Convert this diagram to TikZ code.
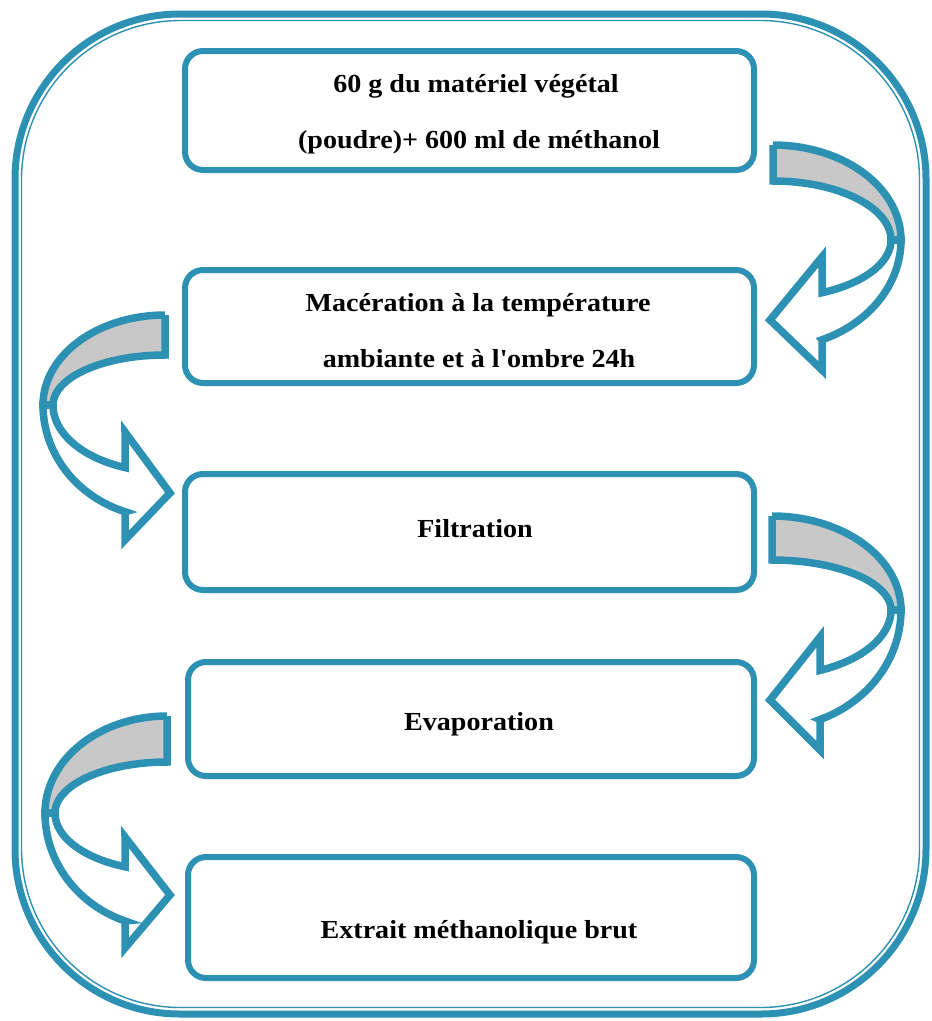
\documentclass[tikz,border=0pt]{standalone}
\usepackage{fontspec}
\setmainfont{Liberation Serif}[FakeStretch=1.08]
\definecolor{teal1}{HTML}{2C91B2}
\definecolor{band}{HTML}{C8C8C8}
\begin{document}
\begin{tikzpicture}[x=1pt,y=-1pt,
  boxouter/.style={draw=teal1,line width=6pt,rounded corners=18pt,minimum width=#1,inner sep=0pt},
  innerline/.style={draw=teal1,line width=1.4pt,rounded corners=14pt},
  lbl/.style={font=\fontsize{26}{30}\selectfont\bfseries,anchor=base,inner sep=0pt},
  ribbon/.style={draw=teal1,line width=7.5pt,line join=miter,miter limit=10}]
\useasboundingbox (0,0) rectangle (932,1021);
% frame
\draw[teal1,line width=7pt,rounded corners=165pt] (15,14) rectangle (926,1014);
\draw[teal1,line width=1.4pt,rounded corners=159pt] (21.5,20.5) rectangle (919.5,1007.5);
% boxes
\node[boxouter=569pt,minimum height=119pt] (b1) at (469.5,110.5) {};
\node[boxouter=569pt,minimum height=113pt] (b2) at (469.5,326.5) {};
\node[boxouter=569pt,minimum height=116pt] (b3) at (469.5,532) {};
\node[boxouter=566pt,minimum height=114pt] (b4) at (471,719) {};
\node[boxouter=566pt,minimum height=121pt] (b5) at (471,917.5) {};
\foreach \b in {b1,b2,b3,b4,b5}{
  \draw[innerline] ([shift={(5,5)}]\b.north west) rectangle ([shift={(-5,-5)}]\b.south east);
}
% texts
\node[lbl] (t1a) at (476,92) {60 g du matériel végétal};
\node[lbl] (t1b) at (479,148) {(poudre)+ 600 ml de méthanol};
\node[lbl] (t2a) at (478,311) {Macération à la température};
\node[lbl] (t2b) at (479,367) {ambiante et à l\textquotesingle ombre 24h};
\node[lbl] (t3) at (475,537) {Filtration};
\node[lbl] (t4) at (479,730) {Evaporation};
\node[lbl] (t5) at (479,938) {Extrait méthanolique brut};
% right arrow 1 (b1 -> b2)
\draw[ribbon,fill=band] (773,145) -- (773,181)
  -- plot[domain=90:0,samples=40] ({773+118*cos(\x)},{240-59*sin(\x)})
  -- plot[domain=0:90,samples=40] ({773+128*cos(\x)},{240-95*sin(\x)}) -- cycle;
\draw[ribbon,fill=white] (891,240)
  -- plot[domain=0:65.46,samples=40] ({773+118*cos(\x)},{240+58*sin(\x)})
  -- (822,257) -- (770,320) -- (822,370) -- (822,339.8)
  -- plot[domain=67.5:0,samples=40] ({773+128*cos(\x)},{240+108*sin(\x)}) -- cycle;
% left arrow 1 (b2 -> b3)
\draw[ribbon,fill=band] (165,315) -- (165,355)
  -- plot[domain=90:0,samples=40] ({165-112*cos(\x)},{405-50*sin(\x)})
  -- plot[domain=0:90,samples=40] ({165-122*cos(\x)},{405-90*sin(\x)}) -- cycle;
\draw[ribbon,fill=white] (53,405)
  -- plot[domain=0:69.1,samples=40] ({165-112*cos(\x)},{405+67*sin(\x)})
  -- (125,432) -- (170,493) -- (125,540) -- (125,511.8)
  -- plot[domain=70.9:0,samples=40] ({165-122*cos(\x)},{405+113*sin(\x)}) -- cycle;
% right arrow 2 (b3 -> b4)
\draw[ribbon,fill=band] (772,516) -- (772,560)
  -- plot[domain=90:0,samples=40] ({772+119*cos(\x)},{610-50*sin(\x)})
  -- plot[domain=0:90,samples=40] ({772+129*cos(\x)},{610-94*sin(\x)}) -- cycle;
\draw[ribbon,fill=white] (891,610)
  -- plot[domain=0:66.2,samples=40] ({772+119*cos(\x)},{610+66*sin(\x)})
  -- (820,637) -- (770,700) -- (820,750) -- (820,719.6)
  -- plot[domain=68.2:0,samples=40] ({772+129*cos(\x)},{610+118*sin(\x)}) -- cycle;
% left arrow 2 (b4 -> b5)
\draw[ribbon,fill=band] (167,716) -- (167,762)
  -- plot[domain=90:0,samples=40] ({167-112*cos(\x)},{813-51*sin(\x)})
  -- plot[domain=0:90,samples=40] ({167-122*cos(\x)},{813-97*sin(\x)}) -- cycle;
\draw[ribbon,fill=white] (55,813)
  -- plot[domain=0:68.0,samples=40] ({167-112*cos(\x)},{813+58*sin(\x)})
  -- (125,837) -- (170,895) -- (125,948) -- (125,921)
  -- plot[domain=69.9:0,samples=40] ({167-122*cos(\x)},{813+115*sin(\x)}) -- cycle;
\end{tikzpicture}
\end{document}
